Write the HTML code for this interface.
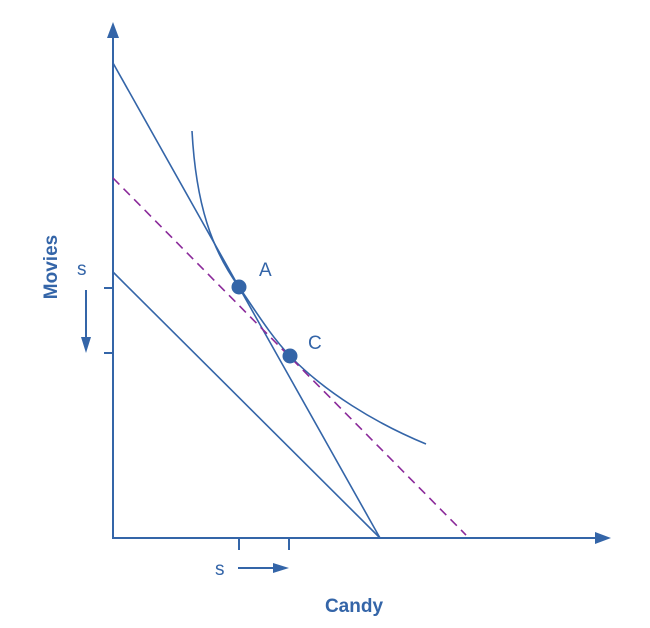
<!DOCTYPE html>
<html><head><style>
html,body{margin:0;padding:0;background:#fff;}
svg{display:block;}
text{font-family:"Liberation Sans",Arial,sans-serif;fill:#3465a8;}
</style></head><body>
<svg width="650" height="628" viewBox="0 0 650 628" xmlns="http://www.w3.org/2000/svg">
<g stroke="#3465a8" fill="none" stroke-width="2">
<line x1="113" y1="36" x2="113" y2="539"/>
<line x1="112" y1="538" x2="596" y2="538"/>
<line x1="104" y1="288" x2="113" y2="288"/>
<line x1="104" y1="353" x2="113" y2="353"/>
<line x1="239" y1="538" x2="239" y2="550"/>
<line x1="289" y1="538" x2="289" y2="550"/>
</g>
<polygon points="113,22 107,38 119,38" fill="#3465a8"/>
<polygon points="611,538 595,532 595,544" fill="#3465a8"/>
<g stroke="#3465a8" fill="none" stroke-width="1.6">
<line x1="113" y1="63" x2="380" y2="538"/>
<line x1="113" y1="272" x2="380" y2="538"/>
<path d="M192,131 C196,205 212,250 239,287 C255,310 270,335 290,356 C325,392 375,423 426,444"/>
</g>
<line x1="113" y1="178" x2="466" y2="535" stroke="#8b2a9a" stroke-width="1.6" stroke-dasharray="9,6"/>
<circle cx="239" cy="287" r="7.5" fill="#3465a8"/>
<circle cx="290" cy="356" r="7.5" fill="#3465a8"/>
<g stroke="#3465a8" stroke-width="2">
<line x1="86" y1="290" x2="86" y2="340"/>
<line x1="238" y1="568" x2="276" y2="568"/>
</g>
<polygon points="86,353 81,337 91,337" fill="#3465a8"/>
<polygon points="289,568 273,563 273,573" fill="#3465a8"/>
<text x="259" y="276" font-size="19">A</text>
<text x="308" y="349" font-size="19">C</text>
<text x="77" y="275" font-size="19">s</text>
<text x="215" y="575" font-size="19">s</text>
<text x="354" y="612" font-size="19" font-weight="bold" text-anchor="middle">Candy</text>
<text x="0" y="0" font-size="19" font-weight="bold" text-anchor="middle" transform="translate(57,267) rotate(-90)">Movies</text>
</svg>
</body></html>
